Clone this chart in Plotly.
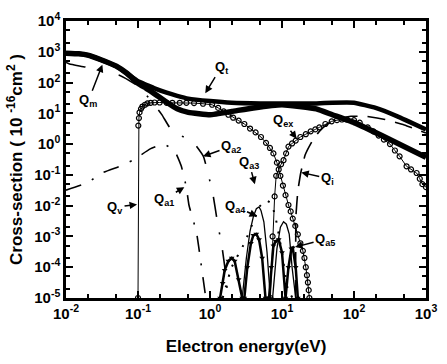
import math
import plotly.graph_objects as go

# ---------------- data (energy in eV, cross-section in 1e-16 cm^2) ----------------
qm_E = [0.01, 0.015, 0.02, 0.03, 0.05, 0.07, 0.1, 0.13, 0.17, 0.25, 0.35, 0.5, 1, 2, 4, 10, 30, 50, 100, 300, 1000]
qm_Q = [900, 860, 780, 560, 340, 200, 95, 65, 43, 23, 14, 10.7, 9, 11.5, 15, 19, 14, 9, 5, 1.5, 0.37]

qt_E = [0.01, 0.015, 0.02, 0.03, 0.05, 0.07, 0.1, 0.13, 0.17, 0.25, 0.35, 0.5, 1, 2, 5, 10, 30, 50, 100, 200, 400, 1000]
qt_Q = [900, 860, 780, 560, 340, 200, 110, 85, 65, 47, 37, 30, 25, 22, 21, 21, 21, 22, 22, 15, 8, 3]

qv_E = [0.1, 0.101, 0.103, 0.105, 0.11, 0.115, 0.125, 0.135, 0.15, 0.17, 0.2, 0.25, 0.3, 0.38, 0.47, 0.6, 0.8, 1.07,
        1.3, 1.55, 1.8, 2.1, 2.5, 3.0, 3.6, 4.3, 5.1, 6.0, 6.8, 7.6, 8.5, 9.5, 10.3, 11.2, 12.3, 13.2, 14.1,
        15.3, 16.6, 18.0, 19.5, 20.5, 21.4, 22.2, 22.9, 23.5, 24.0]
qv_Q = [1e-5, 4, 7, 10.7, 14, 16.6, 19, 21, 22, 22.5, 22.5, 22, 22, 22, 22, 21.5, 20.5, 19,
        15, 11.5, 9, 7.2, 5.8, 4.5, 3.2, 2.4, 1.7, 1.1, 0.75, 0.5, 0.25, 0.093, 0.045, 0.022, 0.0105, 0.0065, 0.0038,
        0.0022, 0.00117, 0.0006, 0.00034, 0.0002, 0.0001, 5.5e-5, 3.2e-5, 1.8e-5, 1e-5]

qex_E = [6.9, 7.4, 7.9, 8.3, 9.0, 9.7, 10.5, 11.4, 12.3, 13.8, 15.5, 18, 21.4, 25, 29, 33, 40, 49, 58, 68, 80, 100,
         120, 155, 186, 220, 260, 316, 370, 430, 537, 620, 741, 820, 891, 1000]
qex_Q = [1e-5, 1e-3, 0.02, 0.093, 0.15, 0.22, 0.3, 0.5, 0.83, 1.05, 1.3, 1.7, 2.1, 2.6, 3.0, 3.5, 4.5, 5.5, 6.0, 6.3, 6.3, 6.0,
         5.0, 3.5, 2.6, 1.9, 1.4, 1.0, 0.62, 0.4, 0.19, 0.15, 0.115, 0.075, 0.05, 0.04]

qi_E = [15.5, 15.6, 16.6, 18.2, 21, 26, 33, 43, 60, 91, 150, 270, 500, 1000]
qi_Q = [1e-5, 0.0044, 0.03, 0.115, 0.45, 1.2, 2.6, 4.5, 6.5, 8, 8, 6.3, 4.2, 2.3]

qa1_E = [0.01, 0.02, 0.0316, 0.056, 0.085, 0.148, 0.224, 0.32, 0.4, 0.47, 0.51, 0.65, 0.74, 0.87]
qa1_Q = [0.032, 0.056, 0.115, 0.19, 0.3, 0.7, 1.0, 0.63, 0.19, 0.039, 0.0105, 0.00135, 0.000166, 1.1e-5]

qa2_E = [0.01, 0.0112, 0.019, 0.056, 0.105, 0.214, 0.275, 0.38, 0.59, 0.81, 0.95, 1.1, 1.26, 1.48, 1.66, 1.78]
qa2_Q = [450, 400, 316, 170, 71, 9.1, 3.5, 2.0, 1.12, 0.4, 0.1, 0.023, 0.0032, 0.0004, 5.5e-5, 1e-5]

qa3_E = [1.5, 2, 3, 4, 5, 6, 7, 8, 10, 12, 14]
qa3_Q = [1e-5, 1e-4, 6e-4, 3e-3, 1e-2, 1.5e-2, 1.2e-2, 5e-3, 3e-4, 2e-5, 1e-5]

qa4_E = [2.8, 3.2, 3.6, 4.0, 4.4, 4.8, 5.1, 5.6, 6.2, 6.9, 7.4, 8.5, 9.5, 10.5, 11.5, 12.6, 13.8, 15.5, 17]
qa4_Q = [1e-5, 2e-4, 1.5e-3, 4.4e-3, 8e-3, 9.1e-3, 7e-3, 3e-3, 3e-4, 1e-5, 1e-5, 4e-4, 2e-3, 3e-3, 2.5e-3, 1.2e-3, 1e-4, 1e-5, 1e-5]

qa5_E = [1.38, 1.5, 1.6, 1.8, 2.0, 2.2, 2.5, 2.8, 3.0, 3.3, 3.7, 4.0, 4.4, 4.8, 5.3, 5.9, 6.6, 7.1, 7.6, 8.2, 9.0, 10.0, 11.2, 12.3, 13.5, 14.1, 15.5, 16.6]
qa5_Q = [1e-5, 3e-5, 8e-5, 1.6e-4, 2e-4, 1.6e-4, 4e-5, 1e-5, 1e-5, 1e-4, 6e-4, 1.1e-3, 1.2e-3, 8e-4, 2e-4, 1e-5, 1e-5, 1e-4, 5e-4, 7e-4, 8e-4, 3e-4, 1e-5, 1e-4, 4e-4, 4.3e-4, 1e-4, 1e-5]

x_tickvals = [0.01, 0.1, 1, 10, 100, 1000]
x_ticktext = ["10<sup>-2</sup>", "10<sup>-1</sup>", "10<sup>0</sup>", "10<sup>1</sup>", "10<sup>2</sup>", "10<sup>3</sup>"]
y_tickvals = [1e-5, 1e-4, 1e-3, 1e-2, 1e-1, 1, 10, 100, 1000, 10000]
y_ticktext = ["10<sup>-5</sup>", "10<sup>-4</sup>", "10<sup>-3</sup>", "10<sup>-2</sup>", "10<sup>-1</sup>",
              "10<sup>0</sup>", "10<sup>1</sup>", "10<sup>2</sup>", "10<sup>3</sup>", "10<sup>4</sup>"]

FONT = "Liberation Sans, Arial, sans-serif"
fig = go.Figure()

def line(x, y, width=1.2, dash="solid", mode="lines", marker=None, smooth=True):
    ln = dict(color="black", width=width, dash=dash)
    if smooth:
        ln.update(shape="spline", smoothing=0.35)
    fig.add_trace(go.Scatter(x=x, y=y, mode=mode, line=ln, marker=marker, showlegend=False, hoverinfo="skip"))

line(qm_E, qm_Q, width=5.5)
line(qt_E, qt_Q, width=4.5)
line(qa2_E, qa2_Q, width=1.6, dash="20px,16px,2px,16px")
line(qa1_E, qa1_Q, width=1.6, dash="16px,12px,2px,12px")
line(qa3_E, qa3_Q, width=2, dash="2px,9px")
line(qi_E, qi_Q, width=1.6, dash="18px,10px")
circ = dict(symbol="circle-open", size=5, color="black", line=dict(width=1.2, color="black"))
line(qv_E, qv_Q, width=1, mode="lines+markers", marker=circ, smooth=False)
line(qex_E, qex_Q, width=1, mode="lines+markers", marker=circ, smooth=False)
line(qa4_E, qa4_Q, width=1.3, smooth=False)
line(qa5_E, qa5_Q, width=2.5, mode="lines+markers", smooth=False,
     marker=dict(symbol="triangle-down", size=5, color="black"))

def lab(text, x, y, ax, ay):
    fig.add_annotation(x=math.log10(x), y=math.log10(y), xref="x", yref="y", text=text, showarrow=True,
                       arrowhead=2, arrowsize=1, arrowwidth=1.5, arrowcolor="black", ax=ax, ay=ay, standoff=0,
                       font=dict(family=FONT, size=13, color="black", weight="bold"))

lab("Q<sub>m</sub>", 0.032, 380, -14, 36)
lab("Q<sub>t</sub>", 0.86, 45, 16, -26)
lab("Q<sub>v</sub>", 0.097, 0.011, -22, 3)
lab("Q<sub>a1</sub>", 0.44, 0.04, -20, 12)
lab("Q<sub>a2</sub>", 0.8, 0.4, 28, -10)
lab("Q<sub>a3</sub>", 4.2, 0.05, -6, -22)
lab("Q<sub>a4</sub>", 4.5, 0.0045, -22, -10)
lab("Q<sub>a5</sub>", 15.2, 0.00045, 30, -8)
lab("Q<sub>ex</sub>", 16, 1.5, -14, -18)
lab("Q<sub>i</sub>", 18.5, 0.12, 26, 6)

axis_common = dict(type="log", showgrid=False, zeroline=False, showline=True, linecolor="black", linewidth=2.5,
                   mirror="allticks", ticks="inside", ticklen=7, tickwidth=2, tickcolor="black",
                   tickfont=dict(family=FONT, size=15, color="black", weight="bold"),
                   minor=dict(ticks="inside", ticklen=4, tickwidth=1.5, tickcolor="black"))

fig.update_xaxes(range=[-2, 3], tickvals=x_tickvals, ticktext=x_ticktext,
                 title=dict(text="Electron energy(eV)", font=dict(family=FONT, size=17, color="black", weight="bold"), standoff=20),
                 **axis_common)
fig.update_yaxes(range=[-5, 4], tickvals=y_tickvals, ticktext=y_ticktext,
                 title=dict(text="Cross-section ( 10 <sup>-16</sup>cm<sup>2</sup> )", font=dict(family=FONT, size=17, color="black", weight="bold"), standoff=8),
                 **axis_common)

fig.update_layout(width=447, height=364, margin=dict(l=66, r=10, t=14, b=65),
                  paper_bgcolor="white", plot_bgcolor="white")

fig.write_html("out.html")
